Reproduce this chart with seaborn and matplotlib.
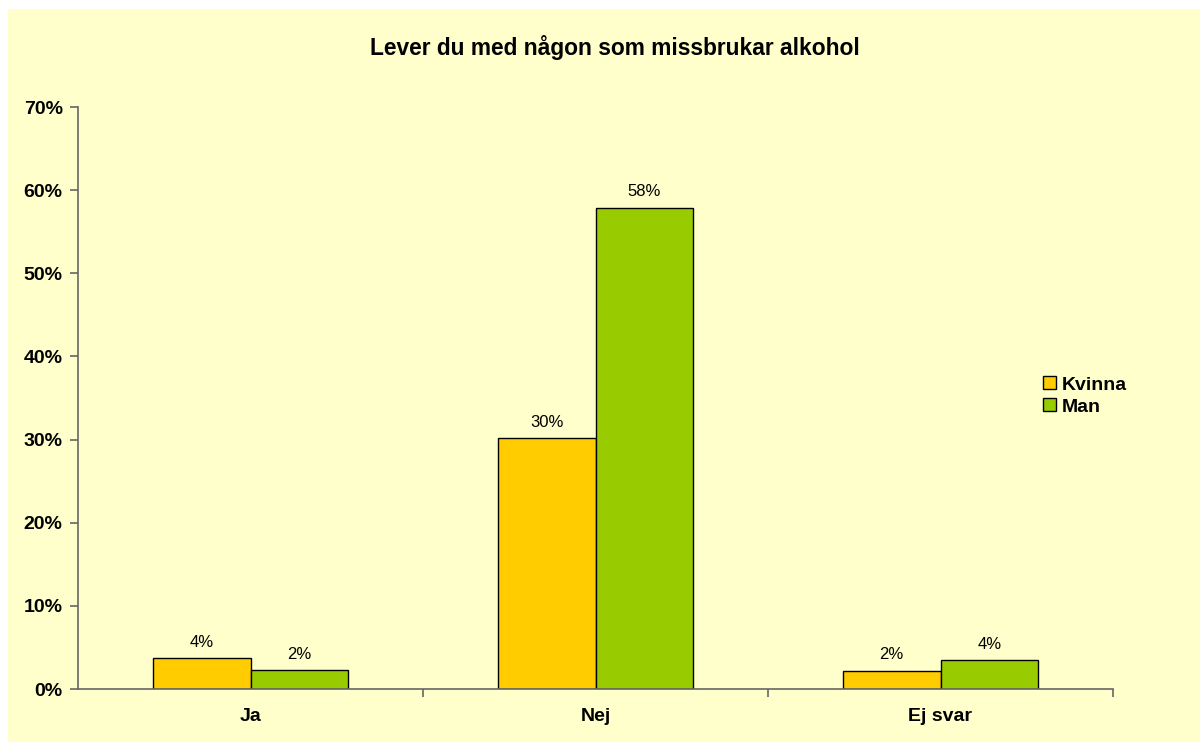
import matplotlib
matplotlib.use("Agg")
import matplotlib.pyplot as plt
import matplotlib.patches as mpatches
import seaborn as sns
import pandas as pd
from matplotlib.ticker import FixedLocator, PercentFormatter

categories = ["Ja", "Nej", "Ej svar"]
kvinna = [0.037, 0.302, 0.022]
man = [0.023, 0.579, 0.035]
series_names = ["Kvinna", "Man"]
value_labels_kvinna = ["4%", "30%", "2%"]
value_labels_man = ["2%", "58%", "4%"]
title = "Lever du med någon som missbrukar alkohol"

colors = {"Kvinna": "#FFCC00", "Man": "#99CC00"}
bg = "#FFFFCC"

df = pd.DataFrame({
    "cat": categories * 2,
    "serie": [series_names[0]] * 3 + [series_names[1]] * 3,
    "val": kvinna + man,
})

sns.set_style("white")
plt.rcParams["font.family"] = ["Liberation Sans", "DejaVu Sans"]
plt.rcParams["text.color"] = "black"
plt.rcParams["xtick.color"] = "black"
plt.rcParams["ytick.color"] = "black"

fig = plt.figure(figsize=(12, 7.42), dpi=100)
fig.patch.set_facecolor("white")
fig.patches.append(mpatches.Rectangle((8 / 1200, -0.01), 1.0, 1.01 - 9 / 742,
                                      transform=fig.transFigure, facecolor=bg,
                                      edgecolor="none", zorder=-10))

ax = fig.add_axes([78 / 1200, 1 - 689 / 742, (1113 - 78) / 1200, (689 - 107) / 742])
ax.set_facecolor(bg)

sns.barplot(data=df, x="cat", y="val", hue="serie", palette=colors, width=0.568,
            edgecolor="black", linewidth=1.0, ax=ax, legend=False, saturation=1)

ax.set_xlim(-0.5, 2.5)
ax.set_ylim(0, 0.7)
ax.yaxis.set_major_locator(FixedLocator([i / 10 for i in range(8)]))
ax.yaxis.set_major_formatter(PercentFormatter(1.0, decimals=0))

for s in ["top", "right"]:
    ax.spines[s].set_visible(False)
for s in ["left", "bottom"]:
    ax.spines[s].set_color("#666666")
    ax.spines[s].set_linewidth(1.2)

ax.tick_params(axis="y", which="major", left=True, length=6, width=1.2, color="#666666",
               labelcolor="black", labelsize=14, pad=5)
for lab in ax.get_yticklabels():
    lab.set_fontweight("bold")
ax.xaxis.set_minor_locator(FixedLocator([0.5, 1.5, 2.5]))
ax.tick_params(axis="x", which="minor", bottom=True, length=6, width=1.2, color="#666666")
ax.tick_params(axis="x", which="major", bottom=False, labelcolor="black", labelsize=14, pad=10)
for lab in ax.get_xticklabels():
    lab.set_fontweight("bold")
ax.set_xlabel("")
ax.set_ylabel("")

containers = ax.containers
ax.bar_label(containers[0], labels=value_labels_kvinna, padding=6, fontsize=12, color="black")
ax.bar_label(containers[1], labels=value_labels_man, padding=6, fontsize=12, color="black")

fig.text(615 / 1200, 1 - 47 / 742, title, ha="center", va="center",
         fontsize=16.4, fontweight="bold", color="black")

handles = [mpatches.Patch(facecolor=colors[n], edgecolor="black", linewidth=1.0, label=n)
           for n in series_names]
leg = fig.legend(handles=handles, loc="center left", bbox_to_anchor=(1043 / 1200, 1 - 396 / 742),
                 frameon=False, prop={"weight": "bold", "size": 14}, handlelength=0.65,
                 handleheight=0.65, handletextpad=0.3, labelspacing=0.25, borderaxespad=0,
                 borderpad=0)
for t in leg.get_texts():
    t.set_color("black")

fig.savefig("out.png", dpi=100, facecolor=fig.get_facecolor())
